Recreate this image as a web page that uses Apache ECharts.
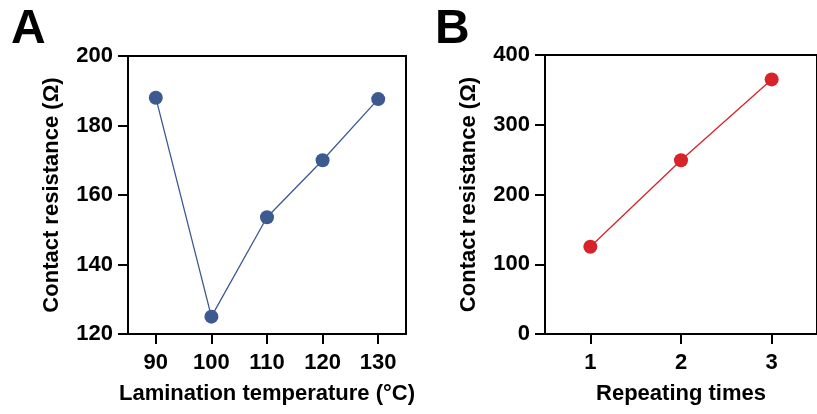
<!DOCTYPE html>
<html>
<head>
<meta charset="utf-8">
<script src="https://cdn.jsdelivr.net/npm/echarts@6/dist/echarts.min.js"></script>
<style>
  html, body { margin: 0; padding: 0; background: #fff; }
  #main { width: 817px; height: 414px; }
</style>
</head>
<body>
<div id="main"></div>
<script>
// panel A: lamination temperature
const tempX = [90, 100, 110, 120, 130];
const tempY = [188, 125, 153.6, 170, 187.6];
// panel B: repeating times
const repX = [1, 2, 3];
const repY = [125, 249, 365];

const font = '"Liberation Sans", Arial, Helvetica, sans-serif';
const blueC = '#3d5a90';
const redC = '#d8232a';

const chart = echarts.init(document.getElementById('main'), null, { renderer: 'canvas' });

function xAxisOf(idx, min, max, ticks, name) {
  return {
    type: 'value', gridIndex: idx, min: min, max: max,
    name: name, nameLocation: 'middle', nameGap: 49,
    nameTextStyle: { fontFamily: font, fontWeight: 'bold', fontSize: 22, color: '#000' },
    axisLine: { show: true, onZero: false, lineStyle: { color: '#000', width: 2 } },
    axisTick: { show: true, inside: false, length: 10, customValues: ticks, lineStyle: { color: '#000', width: 2 } },
    axisLabel: { customValues: ticks, margin: 18, fontFamily: font, fontWeight: 'bold', fontSize: 22, color: '#000' },
    splitLine: { show: false }
  };
}
function yAxisOf(idx, min, max, step) {
  return {
    type: 'value', gridIndex: idx, min: min, max: max, interval: step,
    name: 'Contact resistance (Ω)', nameLocation: 'middle', nameGap: 65,
    nameTextStyle: { fontFamily: font, fontWeight: 'bold', fontSize: 22, color: '#000' },
    axisLine: { show: true, lineStyle: { color: '#000', width: 2 } },
    axisTick: { show: true, inside: false, length: 10, lineStyle: { color: '#000', width: 2 } },
    axisLabel: { margin: 15, fontFamily: font, fontWeight: 'bold', fontSize: 22, color: '#000' },
    splitLine: { show: false }
  };
}

const option = {
  backgroundColor: '#fff',
  animation: false,
  grid: [
    { left: 128, top: 56, width: 278, height: 278, show: true, borderColor: '#000', borderWidth: 2 },
    { left: 545, top: 55, width: 279, height: 279, show: true, borderColor: '#000', borderWidth: 2 }
  ],
  xAxis: [
    xAxisOf(0, 85, 135, tempX, 'Lamination temperature (°C)'),
    xAxisOf(1, 0.5, 3.5, repX, 'Repeating times')
  ],
  yAxis: [
    yAxisOf(0, 120, 200, 20),
    yAxisOf(1, 0, 400, 100)
  ],
  graphic: [
    { type: 'text', left: 11, top: 6, style: { text: 'A', fontFamily: font, fontWeight: 'bold', fontSize: 48, fill: '#000' } },
    { type: 'text', left: 435, top: 6, style: { text: 'B', fontFamily: font, fontWeight: 'bold', fontSize: 48, fill: '#000' } }
  ],
  series: [
    {
      type: 'line', xAxisIndex: 0, yAxisIndex: 0,
      data: tempX.map((x, i) => [x, tempY[i]]),
      symbol: 'circle', symbolSize: 14,
      lineStyle: { color: blueC, width: 1.3 },
      itemStyle: { color: blueC }
    },
    {
      type: 'line', xAxisIndex: 1, yAxisIndex: 1,
      data: repX.map((x, i) => [x, repY[i]]),
      symbol: 'circle', symbolSize: 14,
      lineStyle: { color: redC, width: 1.3 },
      itemStyle: { color: redC }
    }
  ]
};
chart.setOption(option);
</script>
</body>
</html>
